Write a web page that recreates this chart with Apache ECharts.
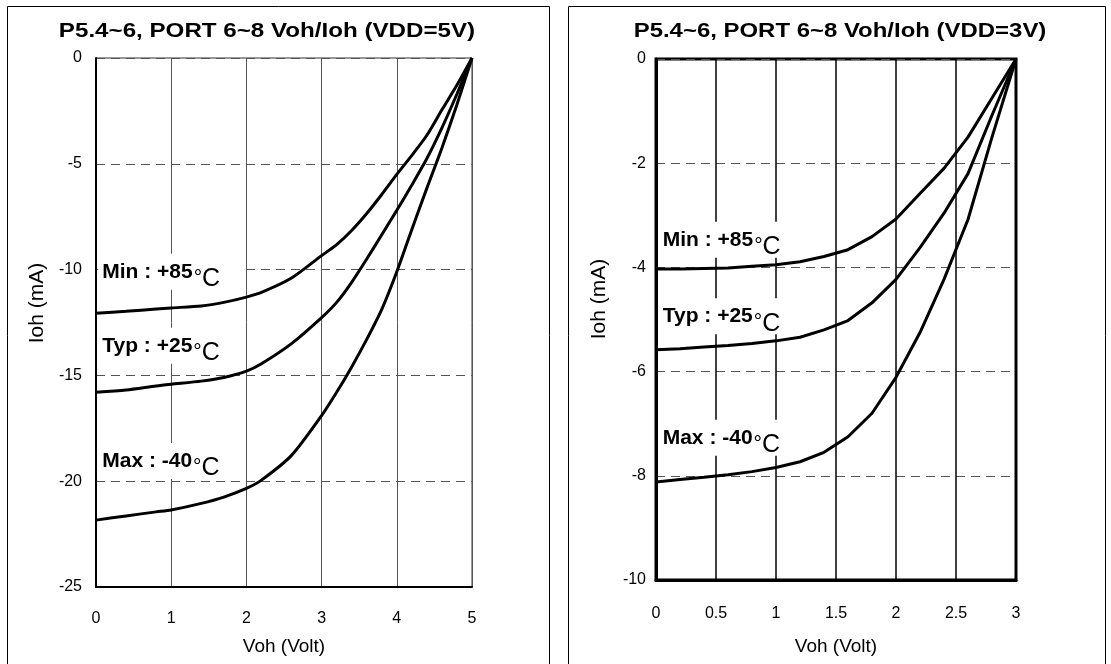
<!DOCTYPE html>
<html><head><meta charset="utf-8">
<script src="https://cdn.jsdelivr.net/npm/echarts@6/dist/echarts.min.js"></script>
<style>html,body{margin:0;padding:0;background:#fff}#c{width:1111px;height:664px}</style>
</head><body><div id="c"></div>
<script>
const FONT = '"Liberation Sans", Arial, Helvetica, sans-serif';

// ---- VDD = 5V chart ----
const title5 = 'P5.4~6, PORT 6~8 Voh/Ioh (VDD=5V)';
const voh5 = [0, 0.4, 0.8, 1.0, 1.4, 1.7, 2.0, 2.2, 2.6, 3.0, 3.2, 3.4, 3.6, 3.8, 4.0, 4.2, 4.4, 4.6, 4.8, 5.0];
const iohMin5 = [-12.06, -11.97, -11.86, -11.81, -11.72, -11.55, -11.30, -11.08, -10.40, -9.34, -8.82, -8.15, -7.35, -6.45, -5.50, -4.60, -3.65, -2.45, -1.28, 0];
const iohTyp5 = [-15.80, -15.69, -15.50, -15.42, -15.27, -15.10, -14.80, -14.45, -13.50, -12.27, -11.55, -10.60, -9.50, -8.35, -7.20, -6.00, -4.75, -3.30, -1.70, 0];
const iohMax5 = [-21.84, -21.64, -21.45, -21.36, -21.05, -20.75, -20.34, -19.95, -18.78, -16.90, -15.80, -14.60, -13.30, -11.88, -10.10, -8.10, -6.15, -4.25, -2.20, 0];
const xTicks5 = [0, 1, 2, 3, 4, 5];
const yTicks5 = [0, -5, -10, -15, -20, -25];

// ---- VDD = 3V chart ----
const title3 = 'P5.4~6, PORT 6~8 Voh/Ioh (VDD=3V)';
const voh3 = [0, 0.2, 0.4, 0.6, 0.8, 1.0, 1.2, 1.4, 1.6, 1.8, 2.0, 2.2, 2.4, 2.6, 2.8, 3.0];
const iohMin3 = [-4.03, -4.03, -4.02, -4.01, -3.98, -3.95, -3.89, -3.79, -3.66, -3.41, -3.07, -2.58, -2.10, -1.50, -0.75, 0];
const iohTyp3 = [-5.58, -5.56, -5.53, -5.50, -5.46, -5.41, -5.34, -5.20, -5.02, -4.68, -4.23, -3.62, -2.96, -2.20, -1.08, 0];
const iohMax3 = [-8.12, -8.07, -8.03, -7.98, -7.92, -7.84, -7.73, -7.55, -7.25, -6.80, -6.11, -5.25, -4.23, -3.08, -1.50, 0];
const xTicks3 = [0, 0.5, 1, 1.5, 2, 2.5, 3];
const yTicks3 = [0, -2, -4, -6, -8, -10];

// curve labels and their anchor points (data coordinates)
const curveNames = ['Min : +85', 'Typ : +25', 'Max : -40'];
const labelAt5 = [[0.01, -10.1], [0.01, -13.6], [0.01, -19.05]];
const labelAt3 = [[0.01, -3.47], [0.01, -4.94], [0.01, -7.27]];

const xName = 'Voh (Volt)';
const yName = 'Ioh (mA)';

function zip(xs, ys) { return xs.map((x, i) => [x, ys[i]]); }

const richStyle = {
  a: { fontFamily: FONT, fontWeight: 'bold', fontSize: 21, color: '#000', lineHeight: 24 },
  b: { fontFamily: FONT, fontWeight: 'normal', fontSize: 21, color: '#000', lineHeight: 24, padding: [12, 0, 0, 1] },
  c: { fontFamily: FONT, fontWeight: 'normal', fontSize: 25, color: '#000', lineHeight: 24, padding: [15, 0, 0, 0] }
};

function mkSeries(xs, ys, idx, name, at, smooth, padRight) {
  return {
    type: 'line', xAxisIndex: idx, yAxisIndex: idx,
    data: zip(xs, ys), showSymbol: false, smooth: smooth,
    lineStyle: { color: '#000', width: 3 }, itemStyle: { color: '#000' },
    animation: false, silent: true, z: 3,
    markPoint: {
      symbol: 'circle', symbolSize: 1, itemStyle: { color: 'rgba(0,0,0,0)' },
      animation: false, silent: true,
      data: [{ coord: at }],
      label: {
        show: true, position: 'right', distance: 1,
        formatter: '{a|' + name + '}{b|°}{c|C}',
        backgroundColor: '#fff', padding: [6, padRight, 6, 4],
        rich: richStyle
      }
    }
  };
}

function axisX(idx, ticks, lineW, splitColor, splitW, nameGap, labelMargin) {
  return {
    type: 'value', gridIndex: idx, min: ticks[0], max: ticks[ticks.length - 1],
    interval: ticks[1] - ticks[0],
    axisLine: { show: true, onZero: false, lineStyle: { color: '#000', width: lineW } },
    axisTick: { show: false },
    axisLabel: { fontFamily: FONT, fontSize: 16, color: '#000', margin: labelMargin },
    splitLine: { show: true, lineStyle: { color: splitColor, width: splitW, type: 'solid' } },
    name: xName, nameLocation: 'middle', nameGap: nameGap,
    nameTextStyle: { fontFamily: FONT, fontSize: 19, color: '#000' }
  };
}
function axisY(idx, ticks, lineW, labelMargin) {
  const lo = Math.min(...ticks), hi = Math.max(...ticks);
  return {
    type: 'value', gridIndex: idx, min: lo, max: hi, interval: Math.abs(ticks[1] - ticks[0]),
    axisLine: { show: true, onZero: false, lineStyle: { color: '#000', width: lineW } },
    axisTick: { show: false },
    axisLabel: { fontFamily: FONT, fontSize: 16, color: '#000', margin: labelMargin },
    splitLine: { show: true, lineStyle: { color: '#555', width: 1, type: [9, 6] } }
  };
}

const chart = echarts.init(document.getElementById('c'), null, { renderer: 'canvas' });
chart.setOption({
  backgroundColor: '#fff',
  animation: false,
  grid: [
    { left: 96, top: 58, width: 376, height: 529, show: true, borderColor: '#333', borderWidth: 1, backgroundColor: 'transparent' },
    { left: 656, top: 59, width: 360, height: 521, show: true, borderColor: '#000', borderWidth: 3, backgroundColor: 'transparent' }
  ],
  xAxis: [axisX(0, xTicks5, 2, '#555', 1, 50, 24), axisX(1, xTicks3, 3, '#000', 1.5, 57, 26)],
  yAxis: [axisY(0, yTicks5, 2, 14), axisY(1, yTicks3, 3, 10)],
  series: [
    mkSeries(voh5, iohMin5, 0, curveNames[0], labelAt5[0], 0.25, 25),
    mkSeries(voh5, iohTyp5, 0, curveNames[1], labelAt5[1], 0.25, 25),
    mkSeries(voh5, iohMax5, 0, curveNames[2], labelAt5[2], 0.25, 25),
    mkSeries(voh3, iohMin3, 1, curveNames[0], labelAt3[0], false, 24),
    mkSeries(voh3, iohTyp3, 1, curveNames[1], labelAt3[1], false, 24),
    mkSeries(voh3, iohMax3, 1, curveNames[2], labelAt3[2], false, 24)
  ],
  graphic: [
    { type: 'rect', shape: { x: 7.5, y: 6.5, width: 542, height: 700 }, style: { fill: 'none', stroke: '#000', lineWidth: 1 }, silent: true },
    { type: 'rect', shape: { x: 568.5, y: 6.5, width: 537, height: 700 }, style: { fill: 'none', stroke: '#000', lineWidth: 1 }, silent: true },
    { type: 'text', x: 267, y: 31, scaleX: 1.15, silent: true,
      style: { text: title5, fontFamily: FONT, fontWeight: 'bold', fontSize: 21, fill: '#000', align: 'center', verticalAlign: 'middle', textAlign: 'center', textVerticalAlign: 'middle' } },
    { type: 'text', x: 840, y: 31, scaleX: 1.14, silent: true,
      style: { text: title3, fontFamily: FONT, fontWeight: 'bold', fontSize: 21, fill: '#000', align: 'center', verticalAlign: 'middle', textAlign: 'center', textVerticalAlign: 'middle' } },
    { type: 'text', x: 37, y: 303, rotation: Math.PI / 2, silent: true,
      style: { text: yName, fontFamily: FONT, fontSize: 21, fill: '#000', align: 'center', verticalAlign: 'middle', textAlign: 'center', textVerticalAlign: 'middle' } },
    { type: 'text', x: 599, y: 299, rotation: Math.PI / 2, silent: true,
      style: { text: yName, fontFamily: FONT, fontSize: 21, fill: '#000', align: 'center', verticalAlign: 'middle', textAlign: 'center', textVerticalAlign: 'middle' } }
  ]
});
</script>
</body></html>
